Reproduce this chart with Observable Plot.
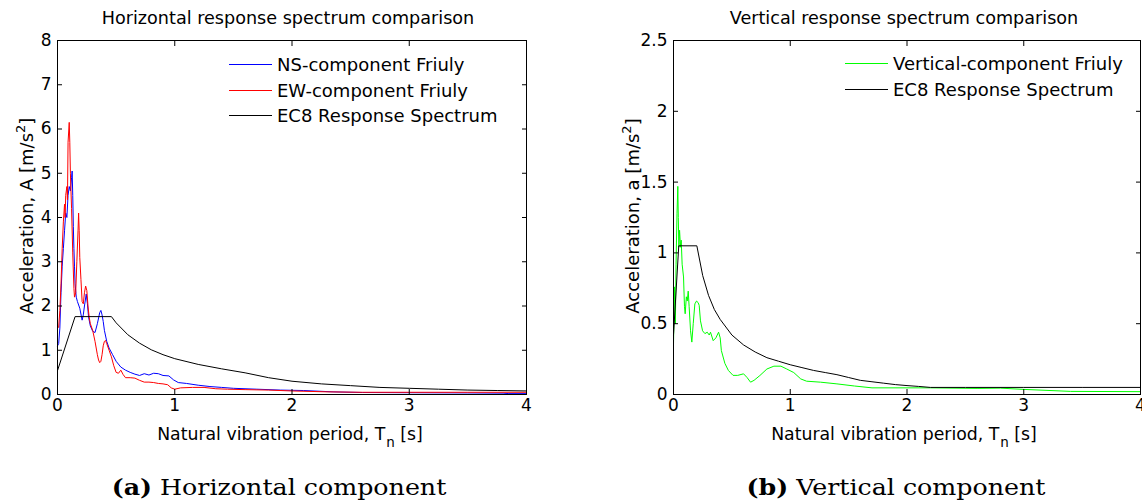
<!DOCTYPE html>
<html>
<head>
<meta charset="utf-8">
<script src="https://cdn.jsdelivr.net/npm/d3@7"></script>
<script src="https://cdn.jsdelivr.net/npm/@observablehq/plot@0.6"></script>
<style>
  html, body { margin: 0; padding: 0; background: #fff; }
  #fig { position: relative; width: 1142px; height: 504px; overflow: hidden; font-family: "DejaVu Sans", sans-serif; color: #000; }
  #fig svg { position: absolute; top: 0; }
  .title { position: absolute; top: 8px; font-size: 17.6px; white-space: nowrap; transform: translateX(-50%); }
  .xlab { position: absolute; top: 424px; font-size: 17.3px; white-space: nowrap; transform: translateX(-50%); }
  .xlab sub { font-size: 13.5px; vertical-align: -7px; margin-left: 1px; }
  .ylab { position: absolute; font-size: 18px; white-space: nowrap; transform: translate(-50%, -50%) rotate(-90deg); }
  .ylab sup { font-size: 13px; vertical-align: 8px; }
  .legend { position: absolute; font-size: 18px; white-space: nowrap; }
  .legend .row { display: flex; align-items: center; height: 25.5px; }
  .legend .sw { display: inline-block; width: 43px; height: 1px; margin-right: 5px; }
  .cap { position: absolute; top: 474px; font-family: "DejaVu Serif", serif; font-size: 22px; white-space: nowrap; transform: translateX(-50%) scaleX(1.15); }
</style>
</head>
<body>
<div id="fig"></div>
<script>
// ---------- Data ----------
// Horizontal: NS component (blue)
const nsT = [0, 0.01, 0.02, 0.03, 0.04, 0.05, 0.06, 0.07, 0.08, 0.09, 0.10, 0.11, 0.12, 0.125, 0.13, 0.135, 0.14, 0.145, 0.15, 0.16, 0.17, 0.19, 0.21, 0.22, 0.23, 0.245, 0.255, 0.265, 0.28, 0.30, 0.32, 0.34, 0.36, 0.37, 0.38, 0.39, 0.40, 0.42, 0.44, 0.47, 0.50, 0.54, 0.58, 0.62, 0.66, 0.70, 0.74, 0.78, 0.82, 0.86, 0.90, 0.95, 0.99, 1.03, 1.1, 1.2, 1.3, 1.4, 1.5, 1.7, 1.9, 2.1, 2.35, 2.6, 3.0, 3.5, 3.8, 3.85, 4.0];
const nsA = [1.1, 1.15, 1.5, 2.3, 2.9, 3.3, 3.7, 4.1, 4.0, 4.5, 4.7, 4.6, 4.9, 5.05, 4.5, 3.8, 3.3, 2.9, 2.5, 2.2, 2.1, 1.95, 1.68, 1.8, 2.0, 2.27, 2.05, 1.75, 1.55, 1.43, 1.4, 1.6, 1.85, 1.9, 1.8, 1.65, 1.45, 1.2, 1.05, 0.9, 0.75, 0.62, 0.55, 0.5, 0.46, 0.43, 0.47, 0.44, 0.48, 0.47, 0.43, 0.42, 0.33, 0.27, 0.25, 0.21, 0.18, 0.16, 0.14, 0.12, 0.1, 0.09, 0.06, 0.045, 0.04, 0.035, 0.03, 0.02, 0.02];
// Horizontal: EW component (red)
const ewT = [0, 0.01, 0.02, 0.03, 0.04, 0.05, 0.06, 0.065, 0.07, 0.08, 0.085, 0.09, 0.10, 0.105, 0.11, 0.115, 0.12, 0.13, 0.14, 0.145, 0.155, 0.165, 0.175, 0.18, 0.185, 0.19, 0.20, 0.21, 0.22, 0.23, 0.24, 0.25, 0.26, 0.27, 0.28, 0.30, 0.32, 0.34, 0.35, 0.36, 0.37, 0.38, 0.39, 0.40, 0.41, 0.42, 0.44, 0.46, 0.48, 0.50, 0.52, 0.54, 0.56, 0.58, 0.62, 0.66, 0.70, 0.74, 0.78, 0.82, 0.86, 0.90, 0.94, 0.97, 1.00, 1.05, 1.15, 1.25, 1.35, 1.45, 1.6, 1.8, 2.0, 2.3, 2.6, 3.0, 3.5, 4.0];
const ewA = [1.5, 1.52, 1.9, 2.5, 3.3, 3.9, 4.3, 4.0, 4.5, 4.7, 4.4, 5.7, 6.15, 5.7, 5.0, 4.6, 4.2, 3.2, 2.4, 2.2, 2.3, 3.0, 3.7, 4.1, 3.7, 3.1, 2.6, 2.1, 2.05, 2.3, 2.45, 2.35, 2.0, 1.75, 1.6, 1.45, 1.2, 0.9, 0.78, 0.72, 0.75, 0.9, 1.1, 1.2, 1.22, 1.15, 1.0, 0.85, 0.65, 0.5, 0.48, 0.55, 0.45, 0.38, 0.38, 0.37, 0.32, 0.28, 0.28, 0.27, 0.25, 0.24, 0.22, 0.15, 0.12, 0.15, 0.16, 0.16, 0.13, 0.12, 0.11, 0.1, 0.08, 0.06, 0.05, 0.05, 0.05, 0.05];
// Horizontal: EC8 response spectrum (black)
const ec8hT = [0, 0.15, 0.46, 0.5, 0.6, 0.7, 0.8, 0.9, 1.0, 1.2, 1.4, 1.6, 1.8, 2.0, 2.25, 2.5, 2.75, 3.0, 3.25, 3.5, 3.75, 4.0];
const ec8hA = [0.54, 1.76, 1.76, 1.62, 1.35, 1.16, 1.01, 0.90, 0.81, 0.68, 0.58, 0.49, 0.38, 0.30, 0.24, 0.20, 0.16, 0.14, 0.12, 0.10, 0.09, 0.08];
// Vertical component (green)
const vT = [0, 0.008, 0.016, 0.022, 0.03, 0.037, 0.041, 0.046, 0.052, 0.06, 0.066, 0.074, 0.086, 0.094, 0.1, 0.11, 0.118, 0.126, 0.134, 0.146, 0.157, 0.169, 0.183, 0.197, 0.21, 0.22, 0.231, 0.249, 0.269, 0.289, 0.306, 0.317, 0.34, 0.363, 0.386, 0.4, 0.41, 0.44, 0.47, 0.51, 0.55, 0.6, 0.63, 0.66, 0.69, 0.74, 0.8, 0.86, 0.92, 0.97, 1.03, 1.09, 1.14, 1.26, 1.4, 1.55, 1.7, 2.2, 2.6, 2.8, 3.0, 3.4, 4.0];
const vA = [0.35, 0.76, 0.5, 0.92, 1.28, 1.47, 1.25, 1.04, 1.16, 1.04, 1.09, 0.92, 0.83, 0.62, 0.57, 0.69, 0.66, 0.73, 0.62, 0.45, 0.37, 0.5, 0.64, 0.66, 0.65, 0.63, 0.52, 0.45, 0.43, 0.44, 0.42, 0.44, 0.38, 0.40, 0.44, 0.4, 0.31, 0.22, 0.17, 0.135, 0.135, 0.146, 0.12, 0.087, 0.1, 0.134, 0.18, 0.2, 0.2, 0.18, 0.155, 0.11, 0.094, 0.087, 0.075, 0.06, 0.047, 0.047, 0.043, 0.045, 0.036, 0.022, 0.02];
// Vertical: EC8 response spectrum (black)
const ec8vT = [0, 0.045, 0.2, 0.25, 0.3, 0.35, 0.4, 0.5, 0.6, 0.7, 0.8, 0.9, 1.0, 1.1, 1.2, 1.3, 1.4, 1.5, 1.6, 1.7, 1.8, 1.9, 2.0, 2.1, 2.2, 2.5, 3.0, 3.5, 4.0];
const ec8vA = [0.42, 1.05, 1.05, 0.84, 0.70, 0.60, 0.53, 0.42, 0.35, 0.30, 0.26, 0.235, 0.21, 0.19, 0.17, 0.155, 0.14, 0.12, 0.10, 0.09, 0.08, 0.07, 0.063, 0.057, 0.05, 0.05, 0.05, 0.05, 0.05];

// Tick values
const xTicks = [0, 1, 2, 3, 4];
const yTicksH = [0, 1, 2, 3, 4, 5, 6, 7, 8];
const yTicksV = [0, 0.5, 1, 1.5, 2, 2.5];

// Text
const titleH = "Horizontal response spectrum comparison";
const titleV = "Vertical response spectrum comparison";
const legendH = ["NS-component Friuly", "EW-component Friuly", "EC8 Response Spectrum"];
const legendV = ["Vertical-component Friuly", "EC8 Response Spectrum"];
const colorsH = ["#0000ff", "#ff0000", "#000000"];
const colorsV = ["#00ff00", "#000000"];

const toRows = (T, A) => T.map((t, i) => ({T: t, A: A[i]}));

function panel({series, colors, yDomain, yTicks, marginLeft, marginRight}) {
  const W = 571, H = 460;
  return Plot.plot({
    width: W, height: H,
    marginLeft, marginRight, marginTop: 40, marginBottom: 66,
    x: {domain: [0, 4]},
    y: {domain: yDomain},
    style: {fontFamily: '"DejaVu Sans", sans-serif', fontSize: "17px", color: "#000", background: "transparent"},
    marks: [
      ...series.map((s, i) => Plot.line(s, {x: "T", y: "A", stroke: colors[i], strokeWidth: 1})),
      Plot.frame({stroke: "#000", strokeWidth: 1}),
      // inward tick marks on all four sides
      Plot.axisX(xTicks, {anchor: "bottom", tickSize: 5, dy: -5, tickFormat: () => "", label: null}),
      Plot.axisX(xTicks, {anchor: "top", tickSize: 5, dy: 5, tickFormat: () => "", label: null}),
      Plot.axisY(yTicks, {anchor: "left", tickSize: 5, dx: 5, tickFormat: () => "", label: null}),
      Plot.axisY(yTicks, {anchor: "right", tickSize: 5, dx: -5, tickFormat: () => "", label: null}),
      // tick labels
      Plot.axisX(xTicks, {anchor: "bottom", tickSize: 0, tickPadding: 4, label: null, fontSize: 17, tickFormat: d => String(d)}),
      Plot.axisY(yTicks, {anchor: "left", tickSize: 0, tickPadding: 6, label: null, fontSize: 17, tickFormat: d => String(d)})
    ]
  });
}

const fig = document.getElementById("fig");

const svgH = panel({
  series: [toRows(nsT, nsA), toRows(ewT, ewA), toRows(ec8hT, ec8hA)],
  colors: colorsH, yDomain: [0, 8], yTicks: yTicksH, marginLeft: 57, marginRight: 45
});
svgH.style.left = "0px";
fig.appendChild(svgH);

const svgV = panel({
  series: [toRows(vT, vA), toRows(ec8vT, ec8vA)],
  colors: colorsV, yDomain: [0, 2.5], yTicks: yTicksV, marginLeft: 102, marginRight: 2
});
svgV.style.left = "571px";
fig.appendChild(svgV);

function addDiv(cls, html, style) {
  const d = document.createElement("div");
  d.className = cls;
  d.innerHTML = html;
  Object.assign(d.style, style);
  fig.appendChild(d);
  return d;
}

// titles
addDiv("title", titleH, {left: "288px"});
addDiv("title", titleV, {left: "904px"});
// axis labels
addDiv("xlab", "Natural vibration period, T<sub>n</sub> [s]", {left: "290px"});
addDiv("xlab", "Natural vibration period, T<sub>n</sub> [s]", {left: "904px"});
addDiv("ylab", "Acceleration, A [m/s<sup>2</sup>]", {left: "25px", top: "216px"});
addDiv("ylab", "Acceleration, a [m/s<sup>2</sup>]", {left: "631px", top: "216px"});
// legends
function legend(labels, colors, left, top) {
  const html = labels.map((l, i) => `<div class="row"><span class="sw" style="background:${colors[i]}"></span><span>${l}</span></div>`).join("");
  addDiv("legend", html, {left: left + "px", top: top + "px"});
}
legend(legendH, colorsH, 229, 52);
legend(legendV, colorsV, 845, 51);
// captions
addDiv("cap", "<b>(a)</b> Horizontal component", {left: "279px"});
addDiv("cap", "<b>(b)</b> Vertical component", {left: "896px"});
</script>
</body>
</html>
